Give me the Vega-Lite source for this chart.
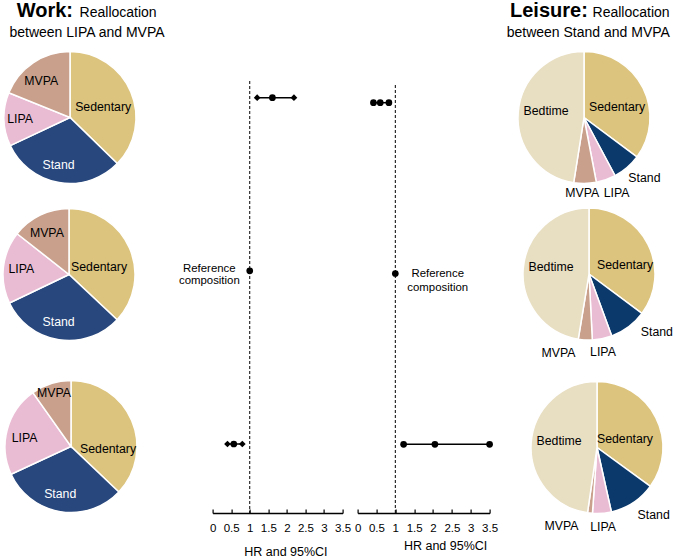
{
  "$schema": "https://vega.github.io/schema/vega-lite/v6.json",
  "padding": {"left": 0, "top": 1, "right": 0, "bottom": 0},
  "datasets": {
    "pies": [
      {"p": "W1", "c": "Sedentary", "v": 37.3, "k": 1},
      {"p": "W1", "c": "Stand", "v": 30.7, "k": 2},
      {"p": "W1", "c": "LIPA", "v": 13.1, "k": 3},
      {"p": "W1", "c": "MVPA", "v": 18.9, "k": 4},
      {"p": "W2", "c": "Sedentary", "v": 37.0, "k": 1},
      {"p": "W2", "c": "Stand", "v": 30.9, "k": 2},
      {"p": "W2", "c": "LIPA", "v": 17.7, "k": 3},
      {"p": "W2", "c": "MVPA", "v": 14.4, "k": 4},
      {"p": "W3", "c": "Sedentary", "v": 37.1, "k": 1},
      {"p": "W3", "c": "Stand", "v": 31.0, "k": 2},
      {"p": "W3", "c": "LIPA", "v": 22.1, "k": 3},
      {"p": "W3", "c": "MVPA", "v": 9.8, "k": 4},
      {"p": "L1", "c": "Sedentary", "v": 35.2, "k": 1},
      {"p": "L1", "c": "Stand", "v": 7.0, "k": 2},
      {"p": "L1", "c": "LIPA", "v": 4.8, "k": 3},
      {"p": "L1", "c": "MVPA", "v": 5.5, "k": 4},
      {"p": "L1", "c": "Bedtime", "v": 47.5, "k": 5},
      {"p": "L2", "c": "Sedentary", "v": 35.2, "k": 1},
      {"p": "L2", "c": "Stand", "v": 9.2, "k": 2},
      {"p": "L2", "c": "LIPA", "v": 4.8, "k": 3},
      {"p": "L2", "c": "MVPA", "v": 3.4, "k": 4},
      {"p": "L2", "c": "Bedtime", "v": 47.4, "k": 5},
      {"p": "L3", "c": "Sedentary", "v": 35.0, "k": 1},
      {"p": "L3", "c": "Stand", "v": 11.5, "k": 2},
      {"p": "L3", "c": "LIPA", "v": 4.6, "k": 3},
      {"p": "L3", "c": "MVPA", "v": 1.2, "k": 4},
      {"p": "L3", "c": "Bedtime", "v": 47.7, "k": 5}
    ],
    "forest": [
      {"panel": "Work", "row": 1, "hr": 1.61, "lo": 1.20, "hi": 2.19},
      {"panel": "Work", "row": 2, "hr": 1.0, "lo": 1.0, "hi": 1.0},
      {"panel": "Work", "row": 3, "hr": 0.57, "lo": 0.40, "hi": 0.80},
      {"panel": "Leisure", "row": 1, "hr": 0.60, "lo": 0.42, "hi": 0.83},
      {"panel": "Leisure", "row": 2, "hr": 1.0, "lo": 1.0, "hi": 1.0},
      {"panel": "Leisure", "row": 3, "hr": 2.05, "lo": 1.22, "hi": 3.50}
    ]
  },
  "resolve": {"scale": {"color": "independent", "theta": "independent"}},
  "spacing": -14,
  "hconcat": [
    {
      "spacing": 13.6,
      "hconcat": [
        {
          "spacing": 0,
          "title": {"text": "Work:", "anchor": "start", "frame": "group", "dx": 16.7, "dy": 15, "offset": 0, "fontSize": 20, "fontWeight": "bold"},
          "vconcat": [
            {
              "width": 140, "height": 155,
              "title": {"text": "\u200b\u00a0\u00a0\u00a0\u00a0\u00a0\u00a0\u00a0\u00a0\u00a0\u00a0\u00a0\u00a0\u00a0\u00a0\u00a0\u00a0Reallocation", "subtitle": "between LIPA and MVPA", "anchor": "middle", "frame": "group", "dx": 17, "offset": 0, "fontSize": 14, "fontWeight": "normal", "subtitleFontSize": 14, "subtitlePadding": 6},
              "data": {"name": "pies"},
              "transform": [{"filter": "datum.p == 'W1'"}],
              "encoding": {
                "theta": {"field": "v", "type": "quantitative", "stack": true},
                "order": {"field": "k", "type": "quantitative"},
                "detail": {"field": "c", "type": "nominal"}
              },
              "layer": [
                {"mark": {"type": "arc", "outerRadius": 66, "stroke": "white", "strokeWidth": 1.5}, "encoding": {"color": {"field": "c", "type": "nominal", "scale": {"domain": ["Sedentary", "Stand", "LIPA", "MVPA"], "range": ["#DCC47E", "#28477C", "#EABCD4", "#C9A08C"]}, "legend": null}}},
                {"mark": {"type": "text", "radius": 36, "dy": 3, "fontSize": 12.3}, "encoding": {"text": {"condition": {"test": "datum.c == 'Sedentary'", "field": "c"}, "value": ""}}},
                {"mark": {"type": "text", "radius": 48, "dx": -3.5, "fontSize": 12.3, "color": "white"}, "encoding": {"text": {"condition": {"test": "datum.c == 'Stand'", "field": "c"}, "value": ""}}},
                {"mark": {"type": "text", "radius": 50, "fontSize": 12.3}, "encoding": {"text": {"condition": {"test": "datum.c == 'LIPA'", "field": "c"}, "value": ""}}},
                {"mark": {"type": "text", "radius": 46, "dx": -3, "dy": 2, "fontSize": 12.3}, "encoding": {"text": {"condition": {"test": "datum.c == 'MVPA'", "field": "c"}, "value": ""}}}
              ]
            },
            {
              "width": 138, "height": 159,
              "data": {"name": "pies"},
              "transform": [{"filter": "datum.p == 'W2'"}],
              "encoding": {
                "theta": {"field": "v", "type": "quantitative", "stack": true},
                "order": {"field": "k", "type": "quantitative"},
                "detail": {"field": "c", "type": "nominal"}
              },
              "layer": [
                {"mark": {"type": "arc", "outerRadius": 66, "stroke": "white", "strokeWidth": 1.5}, "encoding": {"color": {"field": "c", "type": "nominal", "scale": {"domain": ["Sedentary", "Stand", "LIPA", "MVPA"], "range": ["#DCC47E", "#28477C", "#EABCD4", "#C9A08C"]}, "legend": null}}},
                {"mark": {"type": "text", "radius": 36, "dx": -3, "dy": 7, "fontSize": 12.3}, "encoding": {"text": {"condition": {"test": "datum.c == 'Sedentary'", "field": "c"}, "value": ""}}},
                {"mark": {"type": "text", "radius": 48, "dx": -3, "fontSize": 12.3, "color": "white"}, "encoding": {"text": {"condition": {"test": "datum.c == 'Stand'", "field": "c"}, "value": ""}}},
                {"mark": {"type": "text", "radius": 48, "fontSize": 12.3}, "encoding": {"text": {"condition": {"test": "datum.c == 'LIPA'", "field": "c"}, "value": ""}}},
                {"mark": {"type": "text", "radius": 46, "dx": -2, "fontSize": 12.3}, "encoding": {"text": {"condition": {"test": "datum.c == 'MVPA'", "field": "c"}, "value": ""}}}
              ]
            },
            {
              "width": 142, "height": 185,
              "data": {"name": "pies"},
              "transform": [{"filter": "datum.p == 'W3'"}],
              "encoding": {
                "theta": {"field": "v", "type": "quantitative", "stack": true},
                "order": {"field": "k", "type": "quantitative"},
                "detail": {"field": "c", "type": "nominal"}
              },
              "layer": [
                {"mark": {"type": "arc", "outerRadius": 66, "stroke": "white", "strokeWidth": 1.5}, "encoding": {"color": {"field": "c", "type": "nominal", "scale": {"domain": ["Sedentary", "Stand", "LIPA", "MVPA"], "range": ["#DCC47E", "#28477C", "#EABCD4", "#C9A08C"]}, "legend": null}}},
                {"mark": {"type": "text", "radius": 36, "dx": 4, "dy": 17, "fontSize": 12.3}, "encoding": {"text": {"condition": {"test": "datum.c == 'Sedentary'", "field": "c"}, "value": ""}}},
                {"mark": {"type": "text", "radius": 48, "dx": -3, "fontSize": 12.3, "color": "white"}, "encoding": {"text": {"condition": {"test": "datum.c == 'Stand'", "field": "c"}, "value": ""}}},
                {"mark": {"type": "text", "radius": 48, "dy": 3.5, "fontSize": 12.3}, "encoding": {"text": {"condition": {"test": "datum.c == 'LIPA'", "field": "c"}, "value": ""}}},
                {"mark": {"type": "text", "radius": 56, "fontSize": 12.3}, "encoding": {"text": {"condition": {"test": "datum.c == 'MVPA'", "field": "c"}, "value": ""}}}
              ]
            }
          ]
        },
        {
          "spacing": 3,
          "hconcat": [
            {
              "width": 130, "height": 473,
              "data": {"name": "forest"},
              "transform": [{"filter": "datum.panel == 'Work'"}],
              "encoding": {
                "y": {"field": "row", "type": "quantitative", "scale": {"domain": [0.6668, 3.3985], "reverse": true, "nice": false, "zero": false}, "axis": null}
              },
              "layer": [
                {"transform": [{"filter": "datum.row == 2"}], "mark": {"type": "rule", "strokeDash": [3, 2], "color": "black", "strokeWidth": 1}, "encoding": {"x": {"field": "hr", "type": "quantitative", "scale": {"domain": [0, 3.5], "nice": false, "zero": false}, "axis": {"title": "HR and 95%CI", "values": [0, 0.5, 1, 1.5, 2, 2.5, 3, 3.5], "format": "~g", "domain": true, "ticks": true, "titleX": 72.8, "titleY": 38}}, "y": {"datum": 0.9036, "axis": null}, "y2": {"datum": 3.3985}}},
                {"mark": {"type": "rule", "color": "black", "strokeWidth": 1.5}, "encoding": {"x": {"field": "lo", "type": "quantitative", "axis": {"title": "HR and 95%CI", "values": [0, 0.5, 1, 1.5, 2, 2.5, 3, 3.5], "format": "~g", "domain": true, "ticks": true, "titleX": 72.8, "titleY": 38}}, "x2": {"field": "hi"}}},
                {"transform": [{"filter": "datum.row != 2"}], "mark": {"type": "point", "shape": "diamond", "filled": true, "color": "black", "size": 45, "opacity": 1}, "encoding": {"x": {"field": "lo", "type": "quantitative", "axis": {"title": "HR and 95%CI", "values": [0, 0.5, 1, 1.5, 2, 2.5, 3, 3.5], "format": "~g", "domain": true, "ticks": true, "titleX": 72.8, "titleY": 38}}}},
                {"transform": [{"filter": "datum.row != 2"}], "mark": {"type": "point", "shape": "diamond", "filled": true, "color": "black", "size": 45, "opacity": 1}, "encoding": {"x": {"field": "hi", "type": "quantitative", "axis": {"title": "HR and 95%CI", "values": [0, 0.5, 1, 1.5, 2, 2.5, 3, 3.5], "format": "~g", "domain": true, "ticks": true, "titleX": 72.8, "titleY": 38}}}},
                {"mark": {"type": "point", "shape": "circle", "filled": true, "color": "black", "size": 45, "opacity": 1}, "encoding": {"x": {"field": "hr", "type": "quantitative", "axis": {"title": "HR and 95%CI", "values": [0, 0.5, 1, 1.5, 2, 2.5, 3, 3.5], "format": "~g", "domain": true, "ticks": true, "titleX": 72.8, "titleY": 38}}}},
                {"transform": [{"filter": "datum.row == 2"}], "mark": {"type": "text", "text": "Reference composition", "lineBreak": " ", "fontSize": 11.4, "lineHeight": 12.5, "dx": -40.4, "dy": -2, "align": "center", "baseline": "middle", "color": "black"}, "encoding": {"x": {"field": "hr", "type": "quantitative", "axis": {"title": "HR and 95%CI", "values": [0, 0.5, 1, 1.5, 2, 2.5, 3, 3.5], "format": "~g", "domain": true, "ticks": true, "titleX": 72.8, "titleY": 38}}}}
              ]
            },
            {
              "width": 132, "height": 473,
              "data": {"name": "forest"},
              "transform": [{"filter": "datum.panel == 'Leisure'"}],
              "encoding": {
                "y": {"field": "row", "type": "quantitative", "scale": {"domain": [0.6329, 3.4022], "reverse": true, "nice": false, "zero": false}, "axis": null}
              },
              "layer": [
                {"transform": [{"filter": "datum.row == 2"}], "mark": {"type": "rule", "strokeDash": [3, 2], "color": "black", "strokeWidth": 1}, "encoding": {"x": {"field": "hr", "type": "quantitative", "scale": {"domain": [0, 3.5], "nice": false, "zero": false}, "axis": {"title": "HR and 95%CI", "values": [0, 0.5, 1, 1.5, 2, 2.5, 3, 3.5], "format": "~g", "domain": true, "ticks": true, "titleX": 87.5, "titleY": 32}}, "y": {"datum": 0.8964, "axis": null}, "y2": {"datum": 3.4022}}},
                {"mark": {"type": "rule", "color": "black", "strokeWidth": 1.5}, "encoding": {"x": {"field": "lo", "type": "quantitative", "axis": {"title": "HR and 95%CI", "values": [0, 0.5, 1, 1.5, 2, 2.5, 3, 3.5], "format": "~g", "domain": true, "ticks": true, "titleX": 87.5, "titleY": 32}}, "x2": {"field": "hi"}}},
                {"transform": [{"filter": "datum.row != 2"}], "mark": {"type": "point", "shape": "circle", "filled": true, "color": "black", "size": 45, "opacity": 1}, "encoding": {"x": {"field": "lo", "type": "quantitative", "axis": {"title": "HR and 95%CI", "values": [0, 0.5, 1, 1.5, 2, 2.5, 3, 3.5], "format": "~g", "domain": true, "ticks": true, "titleX": 87.5, "titleY": 32}}}},
                {"transform": [{"filter": "datum.row != 2"}], "mark": {"type": "point", "shape": "circle", "filled": true, "color": "black", "size": 45, "opacity": 1}, "encoding": {"x": {"field": "hi", "type": "quantitative", "axis": {"title": "HR and 95%CI", "values": [0, 0.5, 1, 1.5, 2, 2.5, 3, 3.5], "format": "~g", "domain": true, "ticks": true, "titleX": 87.5, "titleY": 32}}}},
                {"mark": {"type": "point", "shape": "circle", "filled": true, "color": "black", "size": 45, "opacity": 1}, "encoding": {"x": {"field": "hr", "type": "quantitative", "axis": {"title": "HR and 95%CI", "values": [0, 0.5, 1, 1.5, 2, 2.5, 3, 3.5], "format": "~g", "domain": true, "ticks": true, "titleX": 87.5, "titleY": 32}}}},
                {"transform": [{"filter": "datum.row == 2"}], "mark": {"type": "text", "text": "Reference composition", "lineBreak": " ", "fontSize": 11.4, "lineHeight": 14, "dx": 42.4, "dy": 0, "align": "center", "baseline": "middle", "color": "black"}, "encoding": {"x": {"field": "hr", "type": "quantitative", "axis": {"title": "HR and 95%CI", "values": [0, 0.5, 1, 1.5, 2, 2.5, 3, 3.5], "format": "~g", "domain": true, "ticks": true, "titleX": 87.5, "titleY": 32}}}}
              ]
            }
          ]
        }
      ]
    },
    {
      "spacing": 0,
      "title": {"text": "Leisure:", "anchor": "start", "frame": "group", "dx": -8, "dy": 15, "offset": 0, "fontSize": 20, "fontWeight": "bold"},
      "vconcat": [
        {
          "width": 132, "height": 155,
          "title": {"text": "\u200b\u00a0\u00a0\u00a0\u00a0\u00a0\u00a0\u00a0\u00a0\u00a0\u00a0\u00a0\u00a0\u00a0\u00a0\u00a0\u00a0\u00a0\u00a0\u00a0\u00a0\u00a0\u00a0Reallocation", "subtitle": "between Stand and MVPA", "anchor": "middle", "frame": "group", "dx": 4.3, "offset": 0, "fontSize": 14, "fontWeight": "normal", "subtitleFontSize": 14, "subtitlePadding": 6},
          "data": {"name": "pies"},
          "transform": [{"filter": "datum.p == 'L1'"}],
          "encoding": {
            "theta": {"field": "v", "type": "quantitative", "stack": true},
            "order": {"field": "k", "type": "quantitative"},
            "detail": {"field": "c", "type": "nominal"}
          },
          "layer": [
            {"mark": {"type": "arc", "outerRadius": 66, "stroke": "white", "strokeWidth": 1.5}, "encoding": {"color": {"field": "c", "type": "nominal", "scale": {"domain": ["Sedentary", "Stand", "LIPA", "MVPA", "Bedtime"], "range": ["#DCC47E", "#0B396C", "#EABCD4", "#C9A08C", "#E8DEC2"]}, "legend": null}}},
            {"mark": {"type": "text", "radius": 37, "dy": 6, "fontSize": 12.3}, "encoding": {"text": {"condition": {"test": "datum.c == 'Sedentary'", "field": "c"}, "value": ""}}},
            {"mark": {"type": "text", "radius": 85, "dx": 5, "dy": -4, "fontSize": 12.3}, "encoding": {"text": {"condition": {"test": "datum.c == 'Stand'", "field": "c"}, "value": ""}}},
            {"mark": {"type": "text", "radius": 80, "dx": 6, "fontSize": 12.3}, "encoding": {"text": {"condition": {"test": "datum.c == 'LIPA'", "field": "c"}, "value": ""}}},
            {"mark": {"type": "text", "radius": 76, "dx": -3, "fontSize": 12.3}, "encoding": {"text": {"condition": {"test": "datum.c == 'MVPA'", "field": "c"}, "value": ""}}},
            {"mark": {"type": "text", "radius": 38, "dy": -4, "fontSize": 12.3}, "encoding": {"text": {"condition": {"test": "datum.c == 'Bedtime'", "field": "c"}, "value": ""}}}
          ]
        },
        {
          "width": 142, "height": 138,
          "data": {"name": "pies"},
          "transform": [{"filter": "datum.p == 'L2'"}],
          "encoding": {
            "theta": {"field": "v", "type": "quantitative", "stack": true},
            "order": {"field": "k", "type": "quantitative"},
            "detail": {"field": "c", "type": "nominal"}
          },
          "layer": [
            {"mark": {"type": "arc", "outerRadius": 66, "stroke": "white", "strokeWidth": 1.5}, "encoding": {"color": {"field": "c", "type": "nominal", "scale": {"domain": ["Sedentary", "Stand", "LIPA", "MVPA", "Bedtime"], "range": ["#DCC47E", "#0B396C", "#EABCD4", "#C9A08C", "#E8DEC2"]}, "legend": null}}},
            {"mark": {"type": "text", "radius": 37, "dx": 3, "dy": 7.6, "fontSize": 12.3}, "encoding": {"text": {"condition": {"test": "datum.c == 'Sedentary'", "field": "c"}, "value": ""}}},
            {"mark": {"type": "text", "radius": 85, "dx": 17, "dy": -10, "fontSize": 12.3}, "encoding": {"text": {"condition": {"test": "datum.c == 'Stand'", "field": "c"}, "value": ""}}},
            {"mark": {"type": "text", "radius": 80, "dx": -2, "fontSize": 12.3}, "encoding": {"text": {"condition": {"test": "datum.c == 'LIPA'", "field": "c"}, "value": ""}}},
            {"mark": {"type": "text", "radius": 79, "dx": -26, "fontSize": 12.3}, "encoding": {"text": {"condition": {"test": "datum.c == 'MVPA'", "field": "c"}, "value": ""}}},
            {"mark": {"type": "text", "radius": 38, "dy": -3.5, "fontSize": 12.3}, "encoding": {"text": {"condition": {"test": "datum.c == 'Bedtime'", "field": "c"}, "value": ""}}}
          ]
        },
        {
          "width": 158, "height": 173,
          "data": {"name": "pies"},
          "transform": [{"filter": "datum.p == 'L3'"}],
          "encoding": {
            "theta": {"field": "v", "type": "quantitative", "stack": true},
            "order": {"field": "k", "type": "quantitative"},
            "detail": {"field": "c", "type": "nominal"}
          },
          "layer": [
            {"mark": {"type": "arc", "outerRadius": 66, "stroke": "white", "strokeWidth": 1.5}, "encoding": {"color": {"field": "c", "type": "nominal", "scale": {"domain": ["Sedentary", "Stand", "LIPA", "MVPA", "Bedtime"], "range": ["#DCC47E", "#0B396C", "#EABCD4", "#C9A08C", "#E8DEC2"]}, "legend": null}}},
            {"mark": {"type": "text", "radius": 37, "dx": -5, "dy": 8, "fontSize": 12.3}, "encoding": {"text": {"condition": {"test": "datum.c == 'Sedentary'", "field": "c"}, "value": ""}}},
            {"mark": {"type": "text", "radius": 85, "dx": 10, "dy": -4, "fontSize": 12.3}, "encoding": {"text": {"condition": {"test": "datum.c == 'Stand'", "field": "c"}, "value": ""}}},
            {"mark": {"type": "text", "radius": 80, "fontSize": 12.3}, "encoding": {"text": {"condition": {"test": "datum.c == 'LIPA'", "field": "c"}, "value": ""}}},
            {"mark": {"type": "text", "radius": 79, "dx": -27, "fontSize": 12.3}, "encoding": {"text": {"condition": {"test": "datum.c == 'MVPA'", "field": "c"}, "value": ""}}},
            {"mark": {"type": "text", "radius": 38, "dy": -4, "fontSize": 12.3}, "encoding": {"text": {"condition": {"test": "datum.c == 'Bedtime'", "field": "c"}, "value": ""}}}
          ]
        }
      ]
    }
  ],
  "config": {
    "font": "Liberation Sans",
    "view": {"stroke": null},
    "text": {"color": "black"},
    "title": {"color": "black", "subtitleColor": "black"},
    "axisX": {"grid": false, "domain": true, "domainColor": "black", "domainWidth": 1.4, "domainOpacity": 1, "tickColor": "black", "tickWidth": 1.2, "tickSize": -4, "labelFontSize": 11.5, "labelColor": "black", "labelPadding": 13, "labelFlush": false, "labelOverlap": false, "titleFontSize": 12.5, "titleFontWeight": "normal", "titleColor": "black", "titleBaseline": "middle"}
  }
}
